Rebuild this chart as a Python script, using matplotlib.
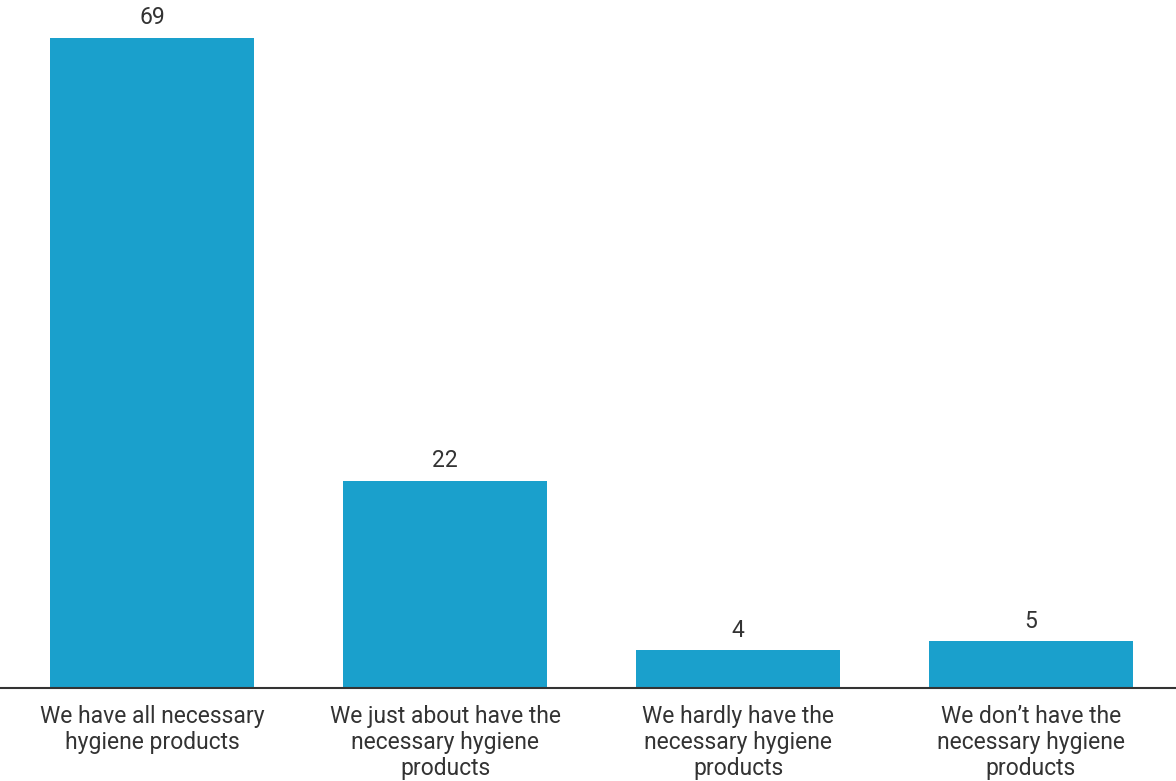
import matplotlib
matplotlib.use("Agg")
import matplotlib.pyplot as plt

categories = [
    "We have all necessary\nhygiene products",
    "We just about have the\nnecessary hygiene\nproducts",
    "We hardly have the\nnecessary hygiene\nproducts",
    "We don\u2019t have the\nnecessary hygiene\nproducts",
]
values = [69, 22, 4, 5]

BAR_COLOR = "#1aa0cc"
TEXT_COLOR = "#333333"

plt.rcParams["font.family"] = ["Roboto", "DejaVu Sans"]

fig = plt.figure(figsize=(11.76, 7.81), dpi=100)
ax = fig.add_axes([0, 93 / 781, 1, 688 / 781])

x = list(range(len(values)))
bars = ax.bar(x, values, width=0.696, color=BAR_COLOR)
for b, v in zip(bars, values):
    ax.annotate(str(v), (b.get_x() + b.get_width() / 2, v), xytext=(0, 6),
                textcoords="offset points", ha="center", va="bottom",
                fontsize=16.5, color=TEXT_COLOR)

ax.set_xlim(-0.519, 3.495)
ax.set_ylim(0, 73.0)
ax.set_xticks(x)
ax.set_xticklabels(categories, fontsize=16.5, color=TEXT_COLOR, linespacing=1.17)
ax.tick_params(axis="x", length=0, pad=12)
ax.set_yticks([])
for side in ["top", "right", "left"]:
    ax.spines[side].set_visible(False)
ax.spines["bottom"].set_color(TEXT_COLOR)
ax.spines["bottom"].set_linewidth(1.5)

fig.savefig("out.png", dpi=100)
